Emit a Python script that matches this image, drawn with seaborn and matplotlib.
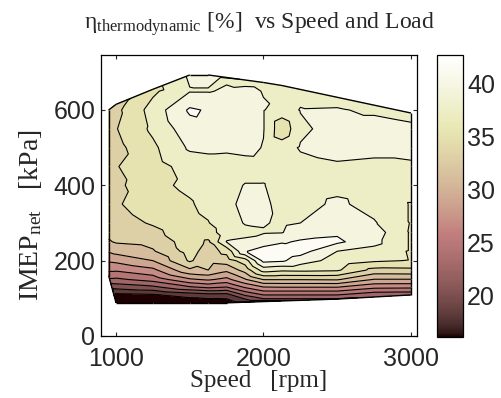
import numpy as np
import matplotlib
matplotlib.use('Agg')
import matplotlib.pyplot as plt
import matplotlib.tri as mtri
from matplotlib.collections import LineCollection
import seaborn as sns

nan = np.nan

# engine speeds [rpm] and load points [kPa] of the map
speeds = [950, 1000, 1250, 1500, 1625, 1750, 1875, 2000, 2125, 2250, 2500, 2750, 3000]
loads = [110, 130, 150, 175, 200, 225, 250, 275, 300, 350, 400, 450, 500, 550, 600, 650]

# lowest / highest measured load at each speed
bottom_load = [160, 88, 88, 88, 88, 88, 98, 98, 98, 98, 98, 107, 109]
bottom_eta = [25.0, 16.2, 16.3, 16.4, 16.5, 16.7, 20.0, 21.8, 21.8, 21.8, 21.8, 22.3, 22.5]
top_load = [600, 615, 655, 693, 693, 683, 675, 673, 665, 653, 628, 610, 592]
top_eta = [33.0, 33.2, 35.2, 38.3, 38.4, 37.8, 37.7, 37.7, 37.2, 37.2, 37.3, 37.2, 37.3]

# thermodynamic efficiency [%] at each speed, for the loads above
eta_950 = [nan, nan, nan, 26.3, 28.3, 30.2, 31.8, 32.5, 32.8, 33.0, 33.2, 33.0, 33.2, 33.0, nan, nan]
eta_1000 = [17.6, 20.8, 23.6, 26.3, 28.5, 30.7, 32.2, 32.8, 33.2, 33.8, 33.5, 33.9, 33.4, 33.9, 33.5, nan]
eta_1250 = [17.9, 21.6, 24.8, 27.5, 30.0, 31.8, 32.6, 33.5, 34.2, 35.0, 35.5, 35.2, 35.6, 36.4, 36.8, 35.6]
eta_1500 = [19.0, 23.8, 27.7, 31.6, 34.3, 34.8, 35.0, 35.2, 35.4, 35.8, 36.4, 36.8, 38.3, 39.2, 40.3, 37.9]
eta_1625 = [19.5, 24.5, 28.3, 32.0, 32.6, 33.1, 33.7, 35.0, 35.9, 36.6, 36.9, 37.0, 38.5, 39.5, 39.8, 37.9]
eta_1750 = [19.4, 24.0, 27.4, 30.5, 33.0, 34.6, 38.1, 37.2, 37.3, 37.6, 37.3, 37.0, 38.4, 39.3, 39.4, 38.2]
eta_1875 = [22.5, 26.3, 29.8, 32.8, 35.0, 39.9, 38.3, 37.6, 38.1, 38.4, 38.1, 37.2, 38.6, 39.3, 39.3, 38.3]
eta_2000 = [24.2, 28.0, 32.1, 36.9, 40.6, 40.7, 39.3, 37.8, 38.2, 38.4, 38.1, 37.3, 37.9, 38.1, 38.1, 37.95]
eta_2125 = [24.2, 28.1, 32.1, 36.4, 40.3, 41.3, 39.8, 37.9, 37.6, 37.4, 37.0, 37.0, 37.0, 34.6, 37.0, 37.8]
eta_2250 = [24.2, 28.1, 32.1, 36.5, 39.0, 40.8, 40.2, 39.2, 38.0, 37.2, 37.0, 37.3, 38.2, 37.5, 38.1, 37.4]
eta_2500 = [24.2, 28.1, 32.2, 36.3, 37.2, 38.0, 40.4, 39.7, 39.3, 38.4, 37.4, 37.7, 38.8, 39.0, 38.2, nan]
eta_2750 = [nan, 26.6, 29.9, 33.4, 36.3, 37.3, 38.6, 39.0, 38.2, 37.2, 37.0, 37.5, 38.6, 39.0, 37.6, nan]
eta_3000 = [nan, 26.5, 29.9, 33.5, 35.9, 35.8, 35.8, 35.8, 35.9, 35.9, 37.0, 37.5, 39.0, 38.5, nan, nan]

eta_cols = [eta_950, eta_1000, eta_1250, eta_1500, eta_1625, eta_1750, eta_1875,
            eta_2000, eta_2125, eta_2250, eta_2500, eta_2750, eta_3000]

# collect the scattered points
xs, ys, zs = [], [], []
for i, s in enumerate(speeds):
    xs += [s, s]
    ys += [bottom_load[i], top_load[i]]
    zs += [bottom_eta[i], top_eta[i]]
    for ld, v in zip(loads, eta_cols[i]):
        if not np.isnan(v):
            xs.append(s)
            ys.append(ld)
            zs.append(v)
xs = np.array(xs, dtype=float)
ys = np.array(ys, dtype=float)
zs = np.array(zs, dtype=float)

sns.set_style('ticks')
plt.rcParams['font.family'] = ['Liberation Sans', 'DejaVu Sans']
plt.rcParams['mathtext.fontset'] = 'custom'
plt.rcParams['mathtext.rm'] = 'Liberation Serif'
plt.rcParams['mathtext.it'] = 'Liberation Serif:italic'
plt.rcParams['axes.linewidth'] = 0.9

cmap = sns.color_palette('pink', as_cmap=True)
norm = matplotlib.colors.Normalize(vmin=16.1, vmax=42.7)
# fill shading: darkest band black, top band white (as in the source figure)
fill_norm = matplotlib.colors.Normalize(vmin=17, vmax=42)
levels = np.arange(16, 43, 2)

fig = plt.figure(figsize=(5.01, 3.98), dpi=100)
ax = fig.add_axes([0.2016, 0.1558, 0.6307, 0.706])
cax = fig.add_axes([0.8723, 0.1533, 0.0519, 0.7085])

tri = mtri.Triangulation(xs, ys)
ax.tricontourf(tri, zs, levels=levels, cmap=cmap, norm=fill_norm)
ax.tricontour(tri, zs, levels=levels, colors='k', linewidths=0.8)

# outline of the measured region
edges = []
for t, nb in zip(tri.triangles, tri.neighbors):
    for j in range(3):
        if nb[j] == -1:
            a, b = t[j], t[(j + 1) % 3]
            edges.append([(xs[a], ys[a]), (xs[b], ys[b])])
ax.add_collection(LineCollection(edges, colors='k', linewidths=1.0))

ax.set_xlim(898, 3041)
ax.set_ylim(0, 746)
ax.set_xticks([1000, 2000, 3000])
ax.set_yticks([0, 200, 400, 600])
ax.tick_params(direction='in', length=3, width=0.8, top=True, right=True,
               labelsize=18, pad=4)
ax.tick_params(axis='x', pad=8)
for sp in ax.spines.values():
    sp.set_color('k')

ax.set_xlabel('Speed   [rpm]', family='Liberation Serif', fontsize=18, labelpad=-1)
ax.set_ylabel('IMEP$_{\\rm net}$   [kPa]', family='Liberation Serif', fontsize=20)
ax.yaxis.set_label_coords(-0.18, 0.43)
ax.set_title('\u03b7$_{\\rm thermodynamic}$ [%]  vs Speed and Load',
             family='Liberation Serif', fontsize=17, pad=19)

sm = matplotlib.cm.ScalarMappable(norm=norm, cmap=cmap)
cb = fig.colorbar(sm, cax=cax)
cb.set_ticks([20, 25, 30, 35, 40])
cax.tick_params(direction='in', length=3, width=0.8, left=True, right=True,
                labelsize=18, pad=3)
cb.outline.set_edgecolor('k')
cb.outline.set_linewidth(0.9)

fig.savefig('out.png', dpi=100)
